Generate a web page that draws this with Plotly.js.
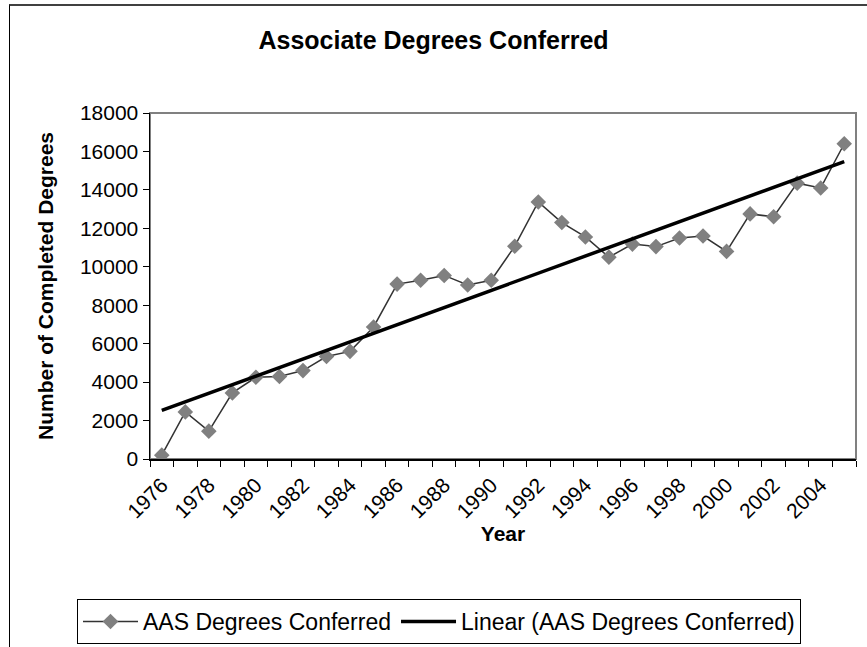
<!DOCTYPE html>
<html>
<head>
<meta charset="utf-8">
<script src="https://cdn.plot.ly/plotly-3.0.1.min.js"></script>
<style>
  html, body { margin: 0; padding: 0; background: #fff; }
  #wrap { position: relative; width: 867px; height: 647px; overflow: hidden; }
  #chart { width: 867px; height: 647px; }
  #frame { position: absolute; left: 9px; top: 4px; width: 870px; height: 700px;
           border-top: 2px solid #404040; border-left: 1px solid #000; pointer-events: none; }
</style>
</head>
<body>
<div id="wrap">
  <div id="chart"></div>
  <div id="frame"></div>
</div>
<script>
// Data
const years = ['1976','1977','1978','1979','1980','1981','1982','1983','1984','1985',
               '1986','1987','1988','1989','1990','1991','1992','1993','1994','1995',
               '1996','1997','1998','1999','2000','2001','2002','2003','2004','2005'];
const degrees = [200, 2450, 1450, 3440, 4250, 4290, 4600, 5330, 5600, 6870,
                 9100, 9300, 9550, 9050, 9300, 11070, 13370, 12300, 11550, 10500,
                 11180, 11050, 11500, 11600, 10800, 12750, 12600, 14350, 14100, 16400];
const yTicks = [0, 2000, 4000, 6000, 8000, 10000, 12000, 14000, 16000, 18000];
const xTickLabels = years.map((y, i) => (i % 2 === 0 ? y : ''));

// Linear least-squares trend (Excel "Linear" trendline)
const n = degrees.length;
const idx = degrees.map((_, i) => i + 1);
const mx = idx.reduce((a, b) => a + b, 0) / n;
const my = degrees.reduce((a, b) => a + b, 0) / n;
let sxy = 0, sxx = 0;
for (let i = 0; i < n; i++) { sxy += (idx[i] - mx) * (degrees[i] - my); sxx += (idx[i] - mx) ** 2; }
const slope = sxy / sxx;
const intercept = my - slope * mx;
const trend = idx.map(x => intercept + slope * x);

const FONT = 'Liberation Sans, Arial, sans-serif';

const traces = [
  {
    x: years, y: degrees, type: 'scatter', mode: 'lines+markers',
    name: 'AAS Degrees Conferred',
    line: { color: '#333333', width: 1.5 },
    marker: { symbol: 'diamond', size: 12, color: '#808080', line: { width: 0 } },
    hoverinfo: 'x+y'
  },
  {
    x: years, y: trend, type: 'scatter', mode: 'lines',
    name: 'Linear (AAS Degrees Conferred)',
    line: { color: '#000000', width: 3.5 },
    hoverinfo: 'skip'
  }
];

const layout = {
  width: 867, height: 647,
  margin: { l: 150, r: 11, t: 113, b: 188, autoexpand: false },
  paper_bgcolor: '#ffffff', plot_bgcolor: '#ffffff',
  font: { family: FONT, size: 21, color: '#000' },
  showlegend: true,
  title: {
    text: '<b>Associate Degrees Conferred</b>',
    font: { family: FONT, size: 25, color: '#000' },
    x: 0.5, xref: 'container', xanchor: 'center',
    y: 1 - 40 / 647, yref: 'container', yanchor: 'middle'
  },
  xaxis: {
    type: 'category',
    categoryorder: 'array', categoryarray: years,
    tickmode: 'array', tickvals: years, ticktext: xTickLabels,
    tickangle: -45,
    tickson: 'boundaries',
    ticks: 'outside', ticklen: 6, tickcolor: '#000', tickwidth: 1,
    ticklabelstandoff: 4,
    showline: true, linecolor: '#000', linewidth: 1.5,
    showgrid: false, zeroline: false, automargin: false,
    tickfont: { family: FONT, size: 21, color: '#000' },
    title: { text: '<b>Year</b>', font: { family: FONT, size: 21, color: '#000' }, standoff: 5 },
    range: [-0.5, 29.5]
  },
  yaxis: {
    range: [0, 18000],
    tickmode: 'array', tickvals: yTicks, ticktext: yTicks.map(String),
    ticks: 'outside', ticklen: 6, tickcolor: '#000', tickwidth: 1,
    showline: true, linecolor: '#000', linewidth: 1.5,
    showgrid: false, zeroline: false, automargin: false,
    tickfont: { family: FONT, size: 21, color: '#000' },
    title: { text: '<b>Number of Completed Degrees</b>', font: { family: FONT, size: 21, color: '#000' }, standoff: 20 }
  },
  shapes: [
    { type: 'rect', xref: 'paper', yref: 'paper', x0: 0, x1: 1, y0: 0, y1: 1,
      line: { color: '#808080', width: 2 }, fillcolor: 'rgba(0,0,0,0)', layer: 'below' }
  ],
  legend: {
    orientation: 'h',
    xref: 'paper', yref: 'paper',
    x: (77 - 150) / 706, xanchor: 'left',
    y: (459 - 599) / 346, yanchor: 'top',
    bordercolor: '#000', borderwidth: 1,
    bgcolor: '#fff',
    font: { family: FONT, size: 23, color: '#000' },
    itemwidth: 55
  }
};

Plotly.newPlot('chart', traces, layout, { displayModeBar: false, staticPlot: true });
</script>
</body>
</html>
